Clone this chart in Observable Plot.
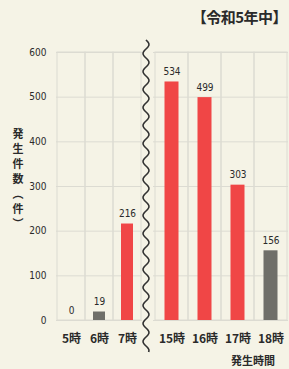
<!DOCTYPE html>
<html><head><meta charset="utf-8">
<script src="https://cdn.jsdelivr.net/npm/d3@7"></script>
<script src="https://cdn.jsdelivr.net/npm/@observablehq/plot@0.6"></script>
<style>
html,body{margin:0;padding:0;background:#f5f3e6;}
#wrap{position:relative;width:289px;height:369px;overflow:hidden;background:#f5f3e6;font-family:"Noto Sans CJK JP",sans-serif;}
#wrap svg{position:absolute;top:0;}
#title{position:absolute;right:2px;top:6px;font-size:15px;font-weight:bold;color:#2a2a2a;letter-spacing:-0.5px;}
#ylab{position:absolute;left:10px;top:128px;writing-mode:vertical-rl;font-size:11px;font-weight:bold;color:#2a2a2a;letter-spacing:4px;}
#xlab{position:absolute;left:231px;top:354px;font-size:11px;line-height:12px;font-weight:bold;color:#2a2a2a;}
</style></head>
<body><div id="wrap">
<div id="title">【令和5年中】</div>
<div id="ylab">発生件数（件）</div>
<div id="xlab">発生時間</div>
</div>
<script>
const morningHours = ["5時","6時","7時"];
const morningCounts = [0, 19, 216];
const eveningHours = ["15時","16時","17時","18時"];
const eveningCounts = [534, 499, 303, 156];
const grayHours = ["6時","18時"];
const yTicks = [0,100,200,300,400,500,600];

const RED = "#f04646", GRAY = "#6f6f69", GRID = "#dcdbd2", INK = "#2a2a2a";
const H = 369, MT = 52, MB = 49;

function panel(hours, counts, opts){
  const data = hours.map((h,i)=>({h, v: counts[i]}));
  return Plot.plot({
    width: opts.width, height: H,
    marginTop: MT, marginBottom: MB, marginLeft: opts.ml, marginRight: opts.mr,
    style: {background: "transparent", color: INK},
    x: {domain: hours, padding: 0, axis: null, label: null},
    y: {domain: [0, 600], axis: null, label: null},
    marks: [
      Plot.ruleY(yTicks, {stroke: GRID, strokeWidth: 1}),
      Plot.cell(hours, {x: d=>d, fill: "none", stroke: GRID, strokeWidth: 1}),
      Plot.barY(data, {x: "h", y: "v", fill: d => grayHours.includes(d.h) ? GRAY : RED,
        insetLeft: opts.inset, insetRight: opts.inset}),
      Plot.text(data, {x: "h", y: "v", text: d => String(d.v), dy: -7, lineAnchor: "bottom",
        fontSize: 10, fill: INK, fontFamily: "DejaVu Sans Condensed"}),
      Plot.axisX({label: null, tickSize: 0, tickPadding: 14, fontSize: 12, fontWeight: "bold",
        fontFamily: "Noto Sans CJK JP", fill: INK}),
      ...(opts.yaxis ? [Plot.axisY({label: null, ticks: yTicks, tickSize: 0, tickPadding: 10, fontSize: 10,
        fontFamily: "DejaVu Sans Condensed", fill: INK})] : [])
    ]
  });
}

const wrap = document.getElementById("wrap");
const left = panel(morningHours, morningCounts, {width: 145, ml: 56, mr: 3, inset: 8, yaxis: true});
left.style.left = "0px";
const right = panel(eveningHours, eveningCounts, {width: 144, ml: 8, mr: 1, inset: 9.5, yaxis: false});
right.style.left = "145px";
wrap.appendChild(left);
wrap.appendChild(right);

// wavy axis-break decoration
const ns = "http://www.w3.org/2000/svg";
const wave = document.createElementNS(ns, "svg");
wave.setAttribute("width", 20); wave.setAttribute("height", H);
wave.style.left = "136px";
const pts = [];
for (let y = 40; y <= 352; y += 1) pts.push([10 + 3 * Math.sin((y - 40) / 18 * 2 * Math.PI), y]);
const p = document.createElementNS(ns, "path");
p.setAttribute("d", d3.line().curve(d3.curveBasis)(pts));
p.setAttribute("fill", "none"); p.setAttribute("stroke", "#333"); p.setAttribute("stroke-width", 1.6);
wave.appendChild(p);
wrap.appendChild(wave);
</script>
</body></html>
